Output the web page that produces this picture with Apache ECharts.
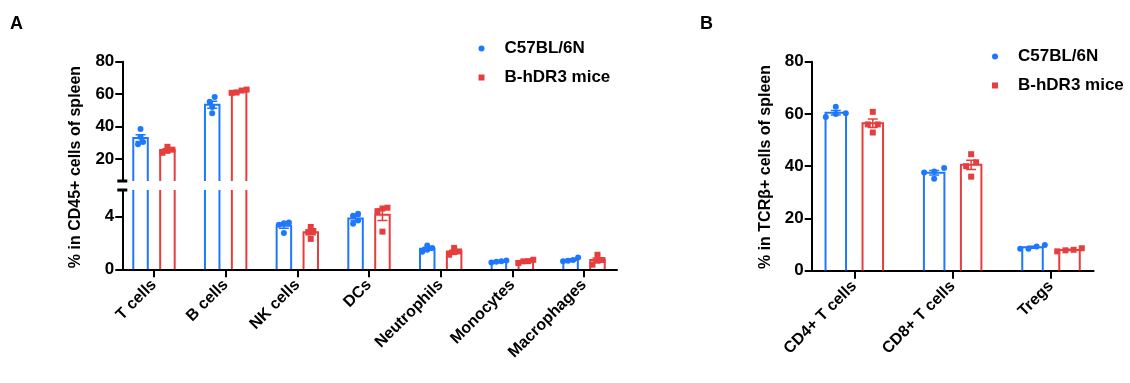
<!DOCTYPE html>
<html><head><meta charset="utf-8">
<script src="https://cdn.jsdelivr.net/npm/echarts@6/dist/echarts.min.js"></script>
<style>html,body{margin:0;padding:0;background:#fff}#c{width:1130px;height:383px}</style>
</head><body><div id="c"></div>
<script>
// ---------------- data ----------------
const seriesNames = ['C57BL/6N', 'B-hDR3 mice'];
const catsA = ['T cells', 'B cells', 'NK cells', 'DCs', 'Neutrophils', 'Monocytes', 'Macrophages'];
const c57A = [[38.5, 33.5, 30.5, 29.0], [58.2, 55.3, 52.0, 48.2], [3.48, 3.54, 3.38, 2.75], [3.45, 3.7, 4.05, 4.2], [1.8, 1.62, 1.47, 1.32], [0.52, 0.66, 0.6, 0.58], [0.9, 0.7, 0.65, 0.6]];
const hdrA = [[27.5, 23.8, 25.7, 25.0], [60.8, 62.8, 61.0, 62.2], [3.2, 2.3, 2.8, 2.9], [4.66, 4.6, 4.4, 2.85], [1.62, 1.1, 1.35, 1.3], [0.48, 0.72, 0.62, 0.6], [1.1, 0.35, 0.7, 0.65]];
const catsB = ['CD4+ T cells', 'CD8+ T cells', 'Tregs'];
const c57B = [[62.8, 58.8, 60.0, 60.3], [39.3, 35.2, 37.6, 38.0], [8.4, 9.8, 8.4, 9.3]];
const hdrB = [[60.8, 56.0, 56.0, 52.9], [44.6, 40.0, 41.5, 36.0], [7.4, 8.6, 8.0, 7.8]];
const ticksAUpper = [20, 40, 60, 80];
const ticksALower = [0, 4];
const ticksB = [0, 20, 40, 60, 80];
const titleA = '% in CD45+ cells of spleen';
const titleB = '% in TCRβ+ cells of spleen';

// ---------------- style / layout ----------------
const BLUE = '#1e78ff', RED = '#e63e3e';
const FONT = '"Liberation Sans", Arial, sans-serif';
const LA = {left: 122.3, width: 494.7, upTop: 61.7, upH: 119.3, loTop: 190, loH: 79.3,
  xmin: -0.442, xmax: 6.46, upMin: 6.4, upMax: 80, loMin: 0, loMax: 6, barW: 14.5, off: 13.45, step: 5, thr: 5};
const LB = {left: 811.7, width: 281.9, top: 61.7, h: 209, xmin: -0.433, xmax: 2.433, min: 0, max: 80,
  barW: 20.5, off: 18.5, step: 10, thr: 6};

function mean(a) { return a.reduce((s, v) => s + v, 0) / a.length; }
function sem(a) { const m = mean(a); return Math.sqrt(a.reduce((s, v) => s + (v - m) * (v - m), 0) / (a.length - 1)) / Math.sqrt(a.length); }

// Prism-like row arrangement of points with near-equal values
function swarm(vals, pxPerVal, thr, maxStep, barW) {
  const idx = vals.map((v, i) => i).sort((a, b) => vals[a] - vals[b]);
  const out = new Array(vals.length).fill(0);
  let k = 0;
  while (k < idx.length) {
    const row = [idx[k]];
    const y0 = vals[idx[k]] * pxPerVal;
    let j = k + 1;
    while (j < idx.length && vals[idx[j]] * pxPerVal - y0 < thr) { row.push(idx[j]); j++; }
    const n = row.length;
    const step = n > 1 ? Math.min(maxStep, barW * 1.2 / (n - 1)) : 0;
    row.forEach((pi, r) => { out[pi] = (r - (n - 1) / 2) * step; });
    k = j;
  }
  return out;
}

function makeRender(color, offPx, barW) {
  return function (params, api) {
    const i = api.value(0), m = api.value(1), s = api.value(2);
    const p0 = api.coord([i, 0]), pt = api.coord([i, m]);
    const ph = api.coord([i, m + s]), pl = api.coord([i, m - s]);
    const cx = p0[0] + offPx, hw = barW / 2;
    return {type: 'group', children: [
      {type: 'polyline', shape: {points: [[cx - hw, p0[1]], [cx - hw, pt[1]], [cx + hw, pt[1]], [cx + hw, p0[1]]]},
        style: {stroke: color, lineWidth: 2, fill: 'none', lineJoin: 'miter'}},
      {type: 'line', shape: {x1: cx, y1: ph[1], x2: cx, y2: pl[1]}, style: {stroke: color, lineWidth: 1.5}},
      {type: 'line', shape: {x1: cx - 5, y1: ph[1], x2: cx + 5, y2: ph[1]}, style: {stroke: color, lineWidth: 1.5}},
      {type: 'line', shape: {x1: cx - 5, y1: pl[1], x2: cx + 5, y2: pl[1]}, style: {stroke: color, lineWidth: 1.5}}
    ]};
  };
}

const series = [];
function addPanel(groups, colorIdx, L, cats, gridSpecs) {
  const color = colorIdx === 0 ? BLUE : RED;
  const sign = colorIdx === 0 ? -1 : 1;
  const ppu = L.width / (L.xmax - L.xmin);
  const stats = groups.map((g, i) => [i, mean(g), sem(g)]);
  gridSpecs.forEach(gs => {
    const pts = [];
    groups.forEach((g, i) => {
      const inGrid = g.filter(v => v >= gs.lo && v <= gs.hi);
      if (!inGrid.length) return;
      const jit = swarm(inGrid, gs.pxPerVal, L.thr, L.step, L.barW);
      inGrid.forEach((v, k) => pts.push([i + (sign * L.off + jit[k]) / ppu, v]));
    });
    series.push({type: 'scatter', name: seriesNames[colorIdx], xAxisIndex: gs.axis, yAxisIndex: gs.axis,
      symbol: colorIdx === 0 ? 'circle' : 'rect', symbolSize: 6, color: color, itemStyle: {color: color, opacity: 1},
      data: pts, z: 3, silent: true});
    series.push({type: 'custom', name: seriesNames[colorIdx], xAxisIndex: gs.axis, yAxisIndex: gs.axis,
      clip: true, color: color, itemStyle: {color: color}, renderItem: makeRender(color, sign * L.off, L.barW), data: stats,
      encode: {x: 0, y: 1}, z: 2, silent: true});
  });
}

const gridsA = [
  {axis: 0, lo: LA.upMin, hi: LA.upMax, pxPerVal: LA.upH / (LA.upMax - LA.upMin)},
  {axis: 1, lo: LA.loMin, hi: LA.loMax, pxPerVal: LA.loH / (LA.loMax - LA.loMin)}
];
const gridsB = [{axis: 2, lo: LB.min, hi: LB.max, pxPerVal: LB.h / (LB.max - LB.min)}];
addPanel(c57A, 0, LA, catsA, gridsA);
addPanel(hdrA, 1, LA, catsA, gridsA);
addPanel(c57B, 0, LB, catsB, gridsB);
addPanel(hdrB, 1, LB, catsB, gridsB);

const xlbl = {fontFamily: FONT, fontWeight: 'bold', fontSize: 16, color: '#000'};
const ylbl = {fontFamily: FONT, fontWeight: 'bold', fontSize: 17, color: '#000'};
function xAx(grid, L, cats, show) {
  const idx = cats.map((c, i) => i);
  return {gridIndex: grid, type: 'value', min: L.xmin, max: L.xmax, show: show,
    splitLine: {show: false},
    axisLine: {show: true, onZero: false, lineStyle: {color: '#000', width: 2}},
    axisTick: {show: true, customValues: idx, length: 8, lineStyle: {color: '#000', width: 2}},
    axisLabel: Object.assign({show: true, customValues: idx, rotate: 45, margin: 13,
      formatter: v => cats[Math.round(v)] || ''}, xlbl)};
}
function yAx(grid, min, max, ticks, sym) {
  return {gridIndex: grid, type: 'value', min: min, max: max,
    splitLine: {show: false},
    axisLine: {show: true, onZero: false, lineStyle: {color: '#000', width: 2},
      symbol: sym, symbolSize: [10, 3], symbolOffset: [0, 0]},
    axisTick: {show: true, customValues: ticks, length: 7, lineStyle: {color: '#000', width: 2}},
    axisLabel: Object.assign({show: true, customValues: ticks, margin: 8}, ylbl)};
}

const legendBase = {orient: 'vertical', itemWidth: 6, itemHeight: 6, itemGap: 12, selectedMode: false,
  formatter: n => '{g|}{t|' + n + '}',
  textStyle: {fontFamily: FONT, fontWeight: 'bold', fontSize: 17, color: '#000',
    rich: {g: {width: 15}, t: {fontFamily: FONT, fontWeight: 'bold', fontSize: 17, color: '#000'}}},
  data: [{name: seriesNames[0], icon: 'circle', itemStyle: {color: BLUE}},
         {name: seriesNames[1], icon: 'rect', itemStyle: {color: RED}}]};

const option = {
  animation: false,
  backgroundColor: '#fff',
  grid: [
    {left: LA.left, top: LA.upTop, width: LA.width, height: LA.upH, outerBoundsMode: 'none', containLabel: false},
    {left: LA.left, top: LA.loTop, width: LA.width, height: LA.loH, outerBoundsMode: 'none', containLabel: false},
    {left: LB.left, top: LB.top, width: LB.width, height: LB.h, outerBoundsMode: 'none', containLabel: false}
  ],
  xAxis: [xAx(0, LA, catsA, false), xAx(1, LA, catsA, true), xAx(2, LB, catsB, true)],
  yAxis: [
    yAx(0, LA.upMin, LA.upMax, ticksAUpper, ['rect', 'none']),
    yAx(1, LA.loMin, LA.loMax, ticksALower, ['none', 'rect']),
    yAx(2, LB.min, LB.max, ticksB, ['none', 'none'])
  ],
  legend: [
    Object.assign({left: 473.5, top: 35}, legendBase),
    Object.assign({left: 987, top: 43}, legendBase)
  ],
  graphic: [
    {type: 'text', x: 76, y: 167, rotation: Math.PI / 2,
      style: {text: titleA, font: 'bold 16px ' + FONT, fill: '#000', align: 'center', verticalAlign: 'middle'}},
    {type: 'text', x: 766, y: 167, rotation: Math.PI / 2,
      style: {text: titleB, font: 'bold 16px ' + FONT, fill: '#000', align: 'center', verticalAlign: 'middle'}},
    {type: 'text', x: 10, y: 15, style: {text: 'A', font: 'bold 18px ' + FONT, fill: '#000'}},
    {type: 'text', x: 700, y: 15, style: {text: 'B', font: 'bold 18px ' + FONT, fill: '#000'}}
  ],
  series: series
};
const chart = echarts.init(document.getElementById('c'), null, {renderer: 'canvas'});
chart.setOption(option);
</script></body></html>
